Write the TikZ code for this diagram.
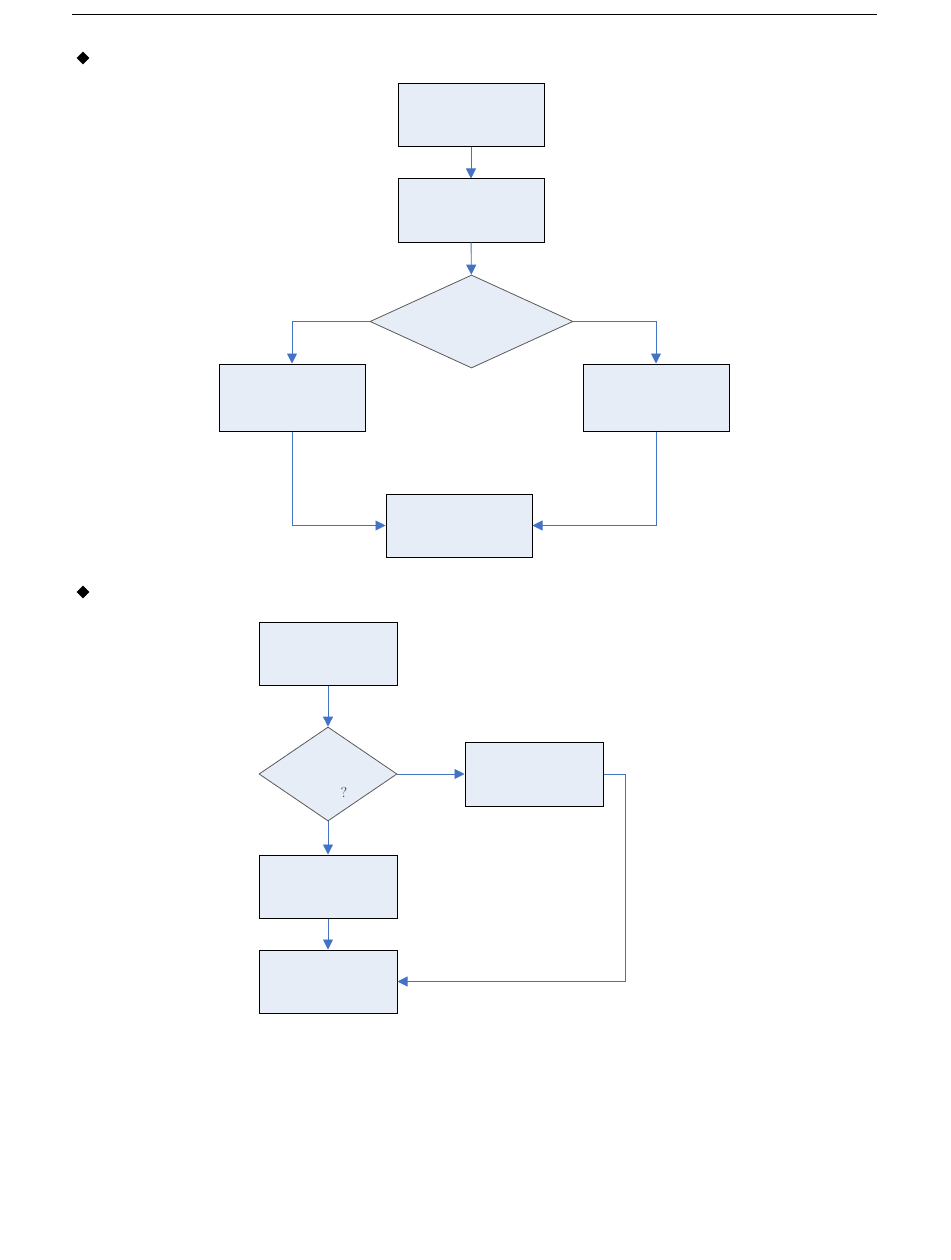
\documentclass[tikz,border=0pt]{standalone}
\usetikzlibrary{shapes.geometric, arrows.meta}
\definecolor{boxFill}{HTML}{E6EDF7}
\definecolor{lineBlue}{HTML}{4472C4}
\colorlet{edgeGray}{black!65}

\begin{document}
\begin{tikzpicture}[x=1pt, y=-1pt,
		box/.style = {draw, line width=1pt, fill=boxFill, minimum width=146pt, minimum height=63pt, inner sep=0pt},
		choice/.style = {diamond, draw=edgeGray, line width=0.8pt, fill=boxFill, inner sep=0pt},
		flow/.style = {draw=lineBlue, line width=0.9pt, -{Triangle[length=10pt, width=10pt]}},
		bulletmark/.style = {diamond, fill=black, inner sep=0pt, minimum size=13pt}]
		\useasboundingbox (0, 0) rectangle (950, 1260);
		%%%%%%%%%%%%%
		\draw [line width=0.9pt] (72, 14) -- (877, 14);
		\node [bulletmark] (m1) at (83, 58) {};
		\node [bulletmark] (m2) at (83, 592) {};
		%%%%%%%%%%%%%
		\node [box] (a) at (471, 115.5) {};
		\node [box] (b) at (471, 210.5) {};
		\node [choice, minimum width=203pt, minimum height=93pt] (d1) at (471.5, 321.5) {};
		\node [box, minimum height=67pt] (l) at (292, 397.5) {};
		\node [box, minimum height=67pt] (r) at (656, 397.5) {};
		\node [box] (c) at (459, 525.5) {};
		%%%%%%%%%%%%%
		\node [box, minimum width=138pt] (p) at (328, 653.5) {};
		\node [choice, minimum width=138pt, minimum height=94pt] (d2) at (328, 774) {};
		\node [font=\Large, text=black!75] (q) at (344, 792) {?};
		\node [box, minimum width=138pt, minimum height=64pt] (e) at (534, 774) {};
		\node [box, minimum width=138pt] (s) at (328, 886.5) {};
		\node [box, minimum width=138pt] (t) at (328, 981.5) {};
		\coordinate (et) at (625, 774);
		%%%%%%%%%%%%%
		\draw [flow] (a) to (b);
		\draw [flow] (b) to (d1);
		\draw [flow] (d1.west) -| (l.north);
		\draw [flow] (d1.east) -| (r.north);
		\draw [flow] (l.south) |- (c.west);
		\draw [flow] (r.south) |- (c.east);
		\draw [flow] (p) to (d2);
		\draw [flow] (d2.east) to (e.west);
		\draw [flow] (d2.south) to (s.north);
		\draw [flow] (s) to (t);
		\draw [flow] (e.east) -- (et) |- (t.east);
\end{tikzpicture}
\end{document}
